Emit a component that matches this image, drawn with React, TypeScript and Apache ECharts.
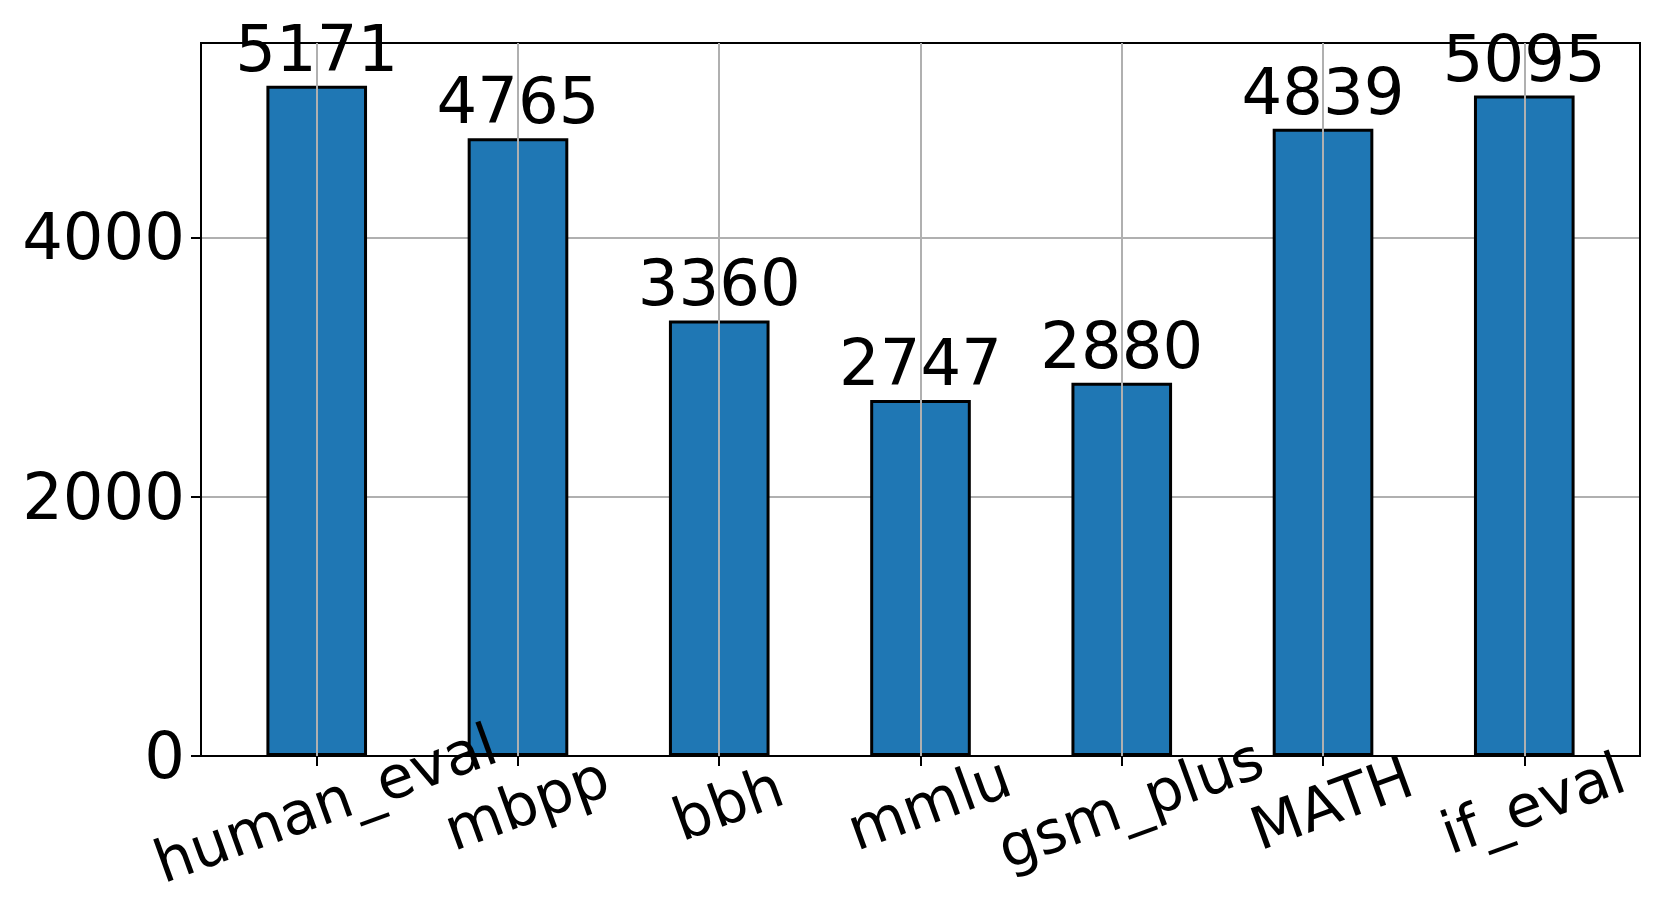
import React, { useEffect, useRef } from "react";
import * as echarts from "echarts";

const categories = ["human_eval", "mbpp", "bbh", "mmlu", "gsm_plus", "MATH", "if_eval"];
const counts = [5171, 4765, 3360, 2747, 2880, 4839, 5095];
const yTicks = [0, 2000, 4000];

const W = 1661;
const H = 917;
const plotLeft = 201;
const plotRight = 1640;
const plotTop = 43;
const plotBottom = 756;
const pad = 0.575;
const unit = (plotRight - plotLeft) / (categories.length - 1 + 2 * pad);
const innerLeft = plotLeft + pad * unit;
const innerRight = plotRight - pad * unit;
const FONT = "DejaVu Sans";
const FS = 64;
const FS_X = 59;

export default function App() {
  const ref = useRef<HTMLDivElement>(null);
  useEffect(() => {
    const chart = echarts.init(ref.current!, null, { renderer: "svg" });
    chart.setOption({
      animation: false,
      backgroundColor: "#ffffff",
      grid: [
        {
          left: plotLeft,
          right: W - plotRight,
          top: plotTop,
          bottom: H - plotBottom,
          show: true,
          borderColor: "#000000",
          borderWidth: 2,
          backgroundColor: "transparent",
          z: 10,
        },
        {
          left: innerLeft,
          right: W - innerRight,
          top: plotTop,
          bottom: H - plotBottom,
        },
      ],
      xAxis: [
        {
          gridIndex: 0,
          type: "value",
          min: 0,
          max: 1,
          show: false,
        },
        {
          gridIndex: 1,
          type: "category",
          data: categories,
          boundaryGap: false,
          z: 20,
          axisLine: { show: false },
          axisTick: { show: true, length: 10, lineStyle: { color: "#000", width: 2 } },
          axisLabel: {
            interval: 0,
            rotate: 20,
            align: "center",
            verticalAlign: "middle",
            margin: 50,
            padding: [0, 0, 0, 18],
            color: "#000",
            fontFamily: FONT,
            fontSize: FS_X,
          },
          splitLine: { show: true, lineStyle: { color: "#b0b0b0", width: 2 } },
        },
      ],
      yAxis: [
        {
          gridIndex: 0,
          type: "value",
          min: 0,
          max: 5500,
          interval: yTicks[1] - yTicks[0],
          axisLine: { show: true, lineStyle: { color: "#000", width: 2 } },
          axisTick: { show: true, length: 10, lineStyle: { color: "#000", width: 2 } },
          axisLabel: {
            margin: 16,
            color: "#000",
            fontFamily: FONT,
            fontSize: FS,
            showMaxLabel: false,
            formatter: (v: number) => String(v),
          },
          splitLine: {
            show: true,
            showMinLine: false,
            showMaxLine: false,
            lineStyle: { color: "#b0b0b0", width: 2 },
          },
        },
        {
          gridIndex: 1,
          type: "value",
          min: 0,
          max: 5500,
          show: false,
          splitLine: { show: false },
        },
      ],
      series: [
        {
          type: "bar",
          xAxisIndex: 1,
          yAxisIndex: 1,
          data: counts,
          barWidth: "50%",
          clip: false,
          z: 2,
          itemStyle: { color: "#1f77b4", borderColor: "#000000", borderWidth: 3 },
          label: {
            show: true,
            position: "top",
            distance: 5,
            color: "#000",
            fontFamily: FONT,
            fontSize: FS,
          },
        },
      ],
    });
    return () => chart.dispose();
  }, []);
  return <div ref={ref} style={{ width: W, height: H, position: "absolute", left: 0, top: 0 }} />;
}
